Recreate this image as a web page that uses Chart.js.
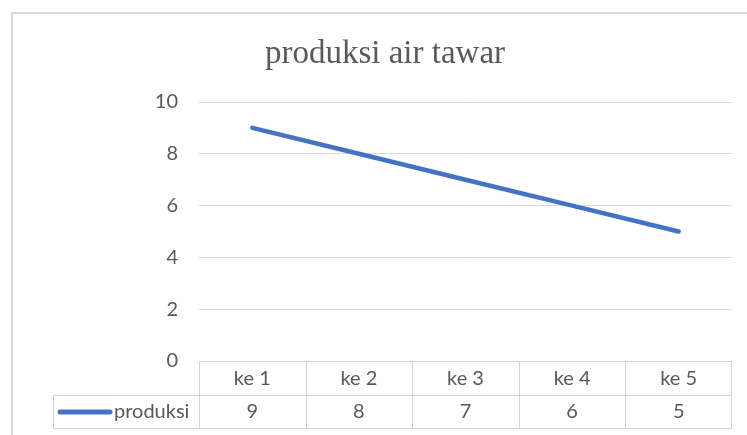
<!DOCTYPE html>
<html><head><meta charset="utf-8">
<script src="https://cdn.jsdelivr.net/npm/chart.js@4"></script>
<style>html,body{margin:0;padding:0;background:#fff;overflow:hidden}#wrap{width:747px;height:435px;position:relative}</style>
</head><body><div id="wrap"><canvas id="c" width="747" height="435"></canvas></div>
<script>
const categories = ['ke 1', 'ke 2', 'ke 3', 'ke 4', 'ke 5'];
const seriesName = 'produksi';
const produksi = [9, 8, 7, 6, 5];
const yTicks = [0, 2, 4, 6, 8, 10];
const titleText = 'produksi air tawar';

const TEXT = '#595959';
const GRID = '#d9d9d9';
const TABLE = '#d2d2d2';
const FONT = 'Lato';

function seg(ctx, x1, y1, x2, y2) {
  ctx.beginPath(); ctx.moveTo(x1, y1); ctx.lineTo(x2, y2); ctx.stroke();
}

const tablePlugin = {
  id: 'dataTable',
  beforeDraw(chart) {
    const ctx = chart.ctx;
    ctx.save();
    ctx.strokeStyle = '#d9d9d9'; ctx.lineWidth = 2;
    ctx.strokeRect(12, 13, 800, 500);
    ctx.restore();
  },
  afterDraw(chart) {
    const ctx = chart.ctx, a = chart.chartArea, x = chart.scales.x;
    const band = (a.right - a.left) / categories.length;
    const rowH = 33.5;
    const r0 = Math.round(a.bottom) + 0.5, r1 = Math.round(a.bottom + rowH) + 0.5, r2 = Math.round(a.bottom + 2 * rowH) + 0.5;
    const legendLeft = 53.5;
    ctx.save();
    ctx.strokeStyle = TABLE; ctx.lineWidth = 1;
    seg(ctx, a.left, r0, a.right, r0);
    seg(ctx, legendLeft, r1, a.right, r1);
    seg(ctx, legendLeft, r2, a.right, r2);
    seg(ctx, legendLeft, r1, legendLeft, r2);
    categories.forEach((c, i) => {
      const l = Math.round(x.getPixelForValue(i) - band / 2) + 0.5;
      seg(ctx, l, r0, l, r2);
    });
    const rr = Math.round(a.right) - 0.5;
    seg(ctx, rr, r0, rr, r2);
    ctx.fillStyle = TEXT; ctx.font = '20px ' + FONT;
    ctx.textAlign = 'center'; ctx.textBaseline = 'middle';
    categories.forEach((c, i) => {
      const cx = x.getPixelForValue(i);
      ctx.fillText(c, cx, (r0 + r1) / 2);
      ctx.fillText(String(produksi[i]), cx, (r1 + r2) / 2);
    });
    const ym = (r1 + r2) / 2;
    const ds = chart.data.datasets[0];
    ctx.strokeStyle = ds.borderColor; ctx.lineWidth = 5; ctx.lineCap = 'round';
    seg(ctx, 60, ym, 110, ym);
    ctx.textAlign = 'left';
    ctx.fillText(seriesName, 114, ym);
    ctx.restore();
  }
};

new Chart(document.getElementById('c'), {
  type: 'line',
  data: {
    labels: categories,
    datasets: [{
      label: seriesName,
      data: produksi,
      borderColor: '#4472C4',
      borderWidth: 4.5,
      pointRadius: 0,
      borderCapStyle: 'round',
      tension: 0
    }]
  },
  options: {
    responsive: false,
    animation: false,
    devicePixelRatio: 1,
    layout: { padding: { top: 0, right: 15, bottom: 74, left: 38 } },
    plugins: {
      legend: { display: false },
      tooltip: { enabled: false },
      title: {
        display: true,
        text: titleText,
        color: '#595959',
        font: { family: 'Liberation Serif', size: 33, weight: 'normal', lineHeight: 1.2 },
        padding: { top: 35, bottom: 27.4 }
      }
    },
    scales: {
      x: { type: 'category', display: false, offset: true },
      y: {
        min: 0, max: 10,
        afterBuildTicks(s) { s.ticks = yTicks.map(v => ({ value: v })); },
        afterFit(s) { s.width = 161; },
        border: { display: false },
        grid: { color: GRID, lineWidth: 1, drawTicks: false },
        ticks: { color: TEXT, font: { family: FONT, size: 20 }, padding: 21 }
      }
    }
  },
  plugins: [tablePlugin]
});
</script>
</body></html>
